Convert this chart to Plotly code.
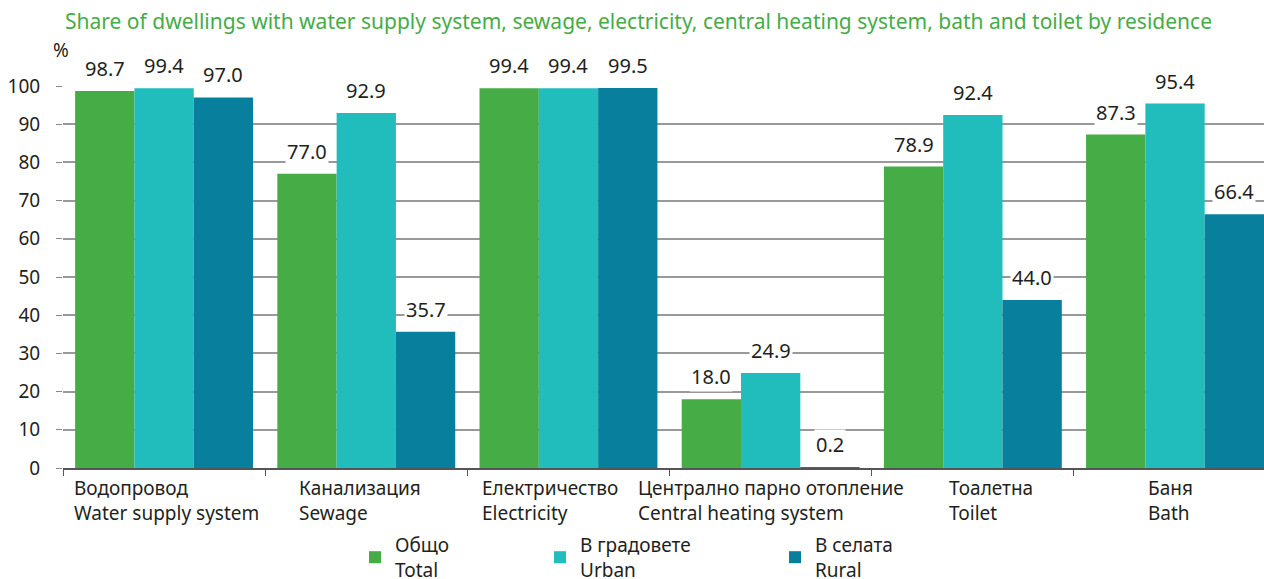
import plotly.graph_objects as go

categories_bg = ["Водопровод", "Канализация", "Електричество", "Централно парно отопление", "Тоалетна", "Баня"]
categories_en = ["Water supply system", "Sewage", "Electricity", "Central heating system", "Toilet", "Bath"]
total = [98.7, 77.0, 99.4, 18.0, 78.9, 87.3]
urban = [99.4, 92.9, 99.4, 24.9, 92.4, 95.4]
rural = [97.0, 35.7, 99.5, 0.2, 44.0, 66.4]
series_names = ["Общо<br>Total", "В градовете<br>Urban", "В селата<br>Rural"]
series_values = [total, urban, rural]
colors = ["#45AC46", "#21BDBD", "#087F9C"]
yticks = [0, 10, 20, 30, 40, 50, 60, 70, 80, 90, 100]

FONT = "Noto Sans"
TXT = "#231F20"
W, H = 1264, 579
L, R, T, B = 63, 0, 86, 111
x_idx = list(range(len(categories_bg)))
label_xshift = [2, -6, -18, 0, 18, -5]  # category label nudges (px)

fig = go.Figure()
legend_ids = ["legend", "legend2", "legend3"]
for name, vals, col, lg in zip(series_names, series_values, colors, legend_ids):
    fig.add_trace(go.Bar(x=x_idx, y=vals, name=name, legend=lg,
                         marker=dict(color=col, line=dict(width=0))))

n = len(series_values)
bargap = 0.12
bw = (1 - bargap) / n
annotations = []
for s, vals in enumerate(series_values):
    off = (s - (n - 1) / 2) * bw
    for i, v in enumerate(vals):
        annotations.append(dict(x=i + off, y=v, xref="x", yref="y", text=f"{v:.1f}",
                                showarrow=False, yanchor="bottom", yshift=7,
                                bgcolor="white", borderpad=1,
                                font=dict(family=FONT, size=20, color=TXT)))
for i, (bg, en) in enumerate(zip(categories_bg, categories_en)):
    annotations.append(dict(x=i, y=0, xref="x", yref="y", text=f"{bg}<br>{en}",
                            showarrow=False, yanchor="top", yshift=-5, xanchor="center",
                            xshift=label_xshift[i],
                            align="left", font=dict(family=FONT, size=19, color=TXT)))
annotations.append(dict(x=0, y=1 + (86 - 50) / 382, xref="paper", yref="paper", text="%", showarrow=False,
                        xanchor="center", yanchor="middle", xshift=-2,
                        font=dict(family=FONT, size=19, color=TXT)))

pw = W - L - R
leg_common = dict(orientation="h", xanchor="left", yanchor="top", y=-(526 - 468) / 382,
                  font=dict(family=FONT, size=19, color=TXT), itemclick=False, itemdoubleclick=False,
                  bgcolor="rgba(0,0,0,0)")
fig.update_layout(
    width=W, height=H,
    margin=dict(l=L, r=R, t=T, b=B, autoexpand=False),
    paper_bgcolor="white", plot_bgcolor="white",
    barmode="group", bargap=bargap, bargroupgap=0,
    title=dict(text="Share of dwellings with water supply system, sewage, electricity, central heating system, bath and toilet by residence",
               x=65 / W, xanchor="left", xref="container", y=1 - 22 / H, yanchor="middle", yref="container",
               pad=dict(l=0, r=0, t=0, b=0),
               font=dict(family=FONT, size=21, color="#45AC46")),
    xaxis=dict(range=[-0.5, 5.44], showticklabels=False, tickmode="array",
               tickvals=[i - 0.5 for i in range(7)], ticks="outside", ticklen=6, tickcolor="#555",
               showline=True, linecolor="#555", linewidth=1.5, showgrid=False, zeroline=False),
    yaxis=dict(range=[0, 100], tickvals=yticks, ticks="outside", ticklen=6, tickcolor="#888",
               ticklabelstandoff=12,
               showgrid=True, gridcolor="#999", gridwidth=1.5, zeroline=False,
               tickfont=dict(family=FONT, size=19, color=TXT)),
    showlegend=True,
    legend=dict(leg_common, x=(355 - L) / pw),
    legend2=dict(leg_common, x=(540 - L) / pw),
    legend3=dict(leg_common, x=(775 - L) / pw),
    annotations=annotations,
)
fig.write_html("out.html", config={"displayModeBar": False},
               post_script="document.body.style.margin='0';document.body.style.overflow='hidden';")
